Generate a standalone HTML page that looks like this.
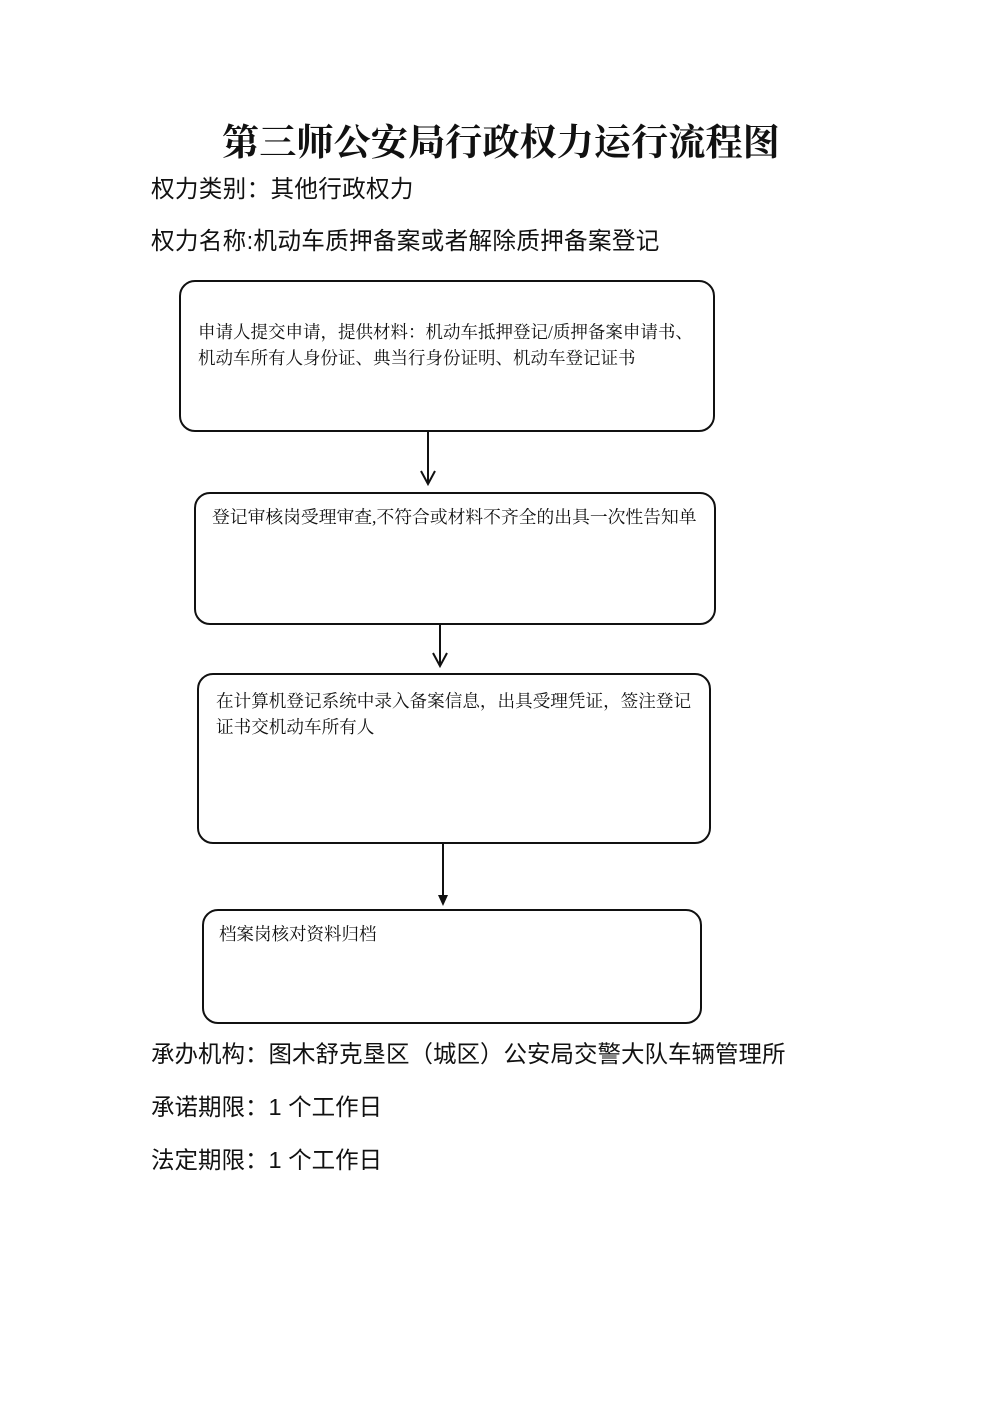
<!DOCTYPE html>
<html><head><meta charset="utf-8"><style>
body{margin:0;background:#fff;}
#p{position:relative;width:1000px;height:1414px;background:#fff;overflow:hidden;font-family:"Liberation Sans","Noto Sans CJK SC",sans-serif;color:#111;}
.t{position:absolute;white-space:nowrap;line-height:1;}
.b{position:absolute;border:2px solid #111;border-radius:16px;box-sizing:border-box;}
.bt{position:absolute;font-size:17px;line-height:26px;white-space:nowrap;font-family:"Liberation Serif","Noto Serif CJK SC",serif;}
</style></head><body><div id="p">
<div class="t" style="left:222px;top:125px;font-size:37.2px;font-weight:bold;font-family:'Liberation Serif','Noto Serif CJK SC',serif;">第三师公安局行政权力运行流程图</div>
<div class="t" style="left:151px;top:179px;font-size:23.6px;letter-spacing:0.3px;">权力类别：其他行政权力</div>
<div class="t" style="left:151px;top:231px;font-size:23.6px;letter-spacing:0.3px;">权力名称:机动车质押备案或者解除质押备案登记</div>

<div class="b" style="left:179px;top:280px;width:536px;height:152px;"></div>
<div class="bt" style="left:198px;top:319px;font-size:17.5px;">申请人提交申请，提供材料：机动车抵押登记/质押备案申请书、<br>机动车所有人身份证、典当行身份证明、机动车登记证书</div>

<div class="b" style="left:194px;top:492px;width:522px;height:133px;"></div>
<div class="bt" style="left:212px;top:504px;font-size:17.8px;">登记审核岗受理审查,不符合或材料不齐全的出具一次性告知单</div>

<div class="b" style="left:197px;top:673px;width:514px;height:171px;"></div>
<div class="bt" style="left:216px;top:688px;font-size:17.6px;">在计算机登记系统中录入备案信息，出具受理凭证，签注登记<br>证书交机动车所有人</div>

<div class="b" style="left:202px;top:909px;width:500px;height:115px;"></div>
<div class="bt" style="left:219px;top:921px;font-size:17.5px;">档案岗核对资料归档</div>

<svg style="position:absolute;left:0;top:0" width="1000" height="1414">
<g stroke="#111" stroke-width="2" fill="none">
<line x1="428" y1="432" x2="428" y2="483"/>
<polyline points="421,471 428,484 435,471"/>
<line x1="440" y1="625" x2="440" y2="665"/>
<polyline points="433,653 440,666 447,653"/>
</g>
<line x1="443" y1="844" x2="443" y2="898" stroke="#111" stroke-width="2"/>
<polygon points="438,895 448,895 443,906" fill="#111"/>
</svg>

<div class="t" style="left:151px;top:1043px;font-size:23.5px;">承办机构：图木舒克垦区（城区）公安局交警大队车辆管理所</div>
<div class="t" style="left:151px;top:1096px;font-size:23.5px;">承诺期限：1 个工作日</div>
<div class="t" style="left:151px;top:1149px;font-size:23.5px;">法定期限：1 个工作日</div>
</div></body></html>
